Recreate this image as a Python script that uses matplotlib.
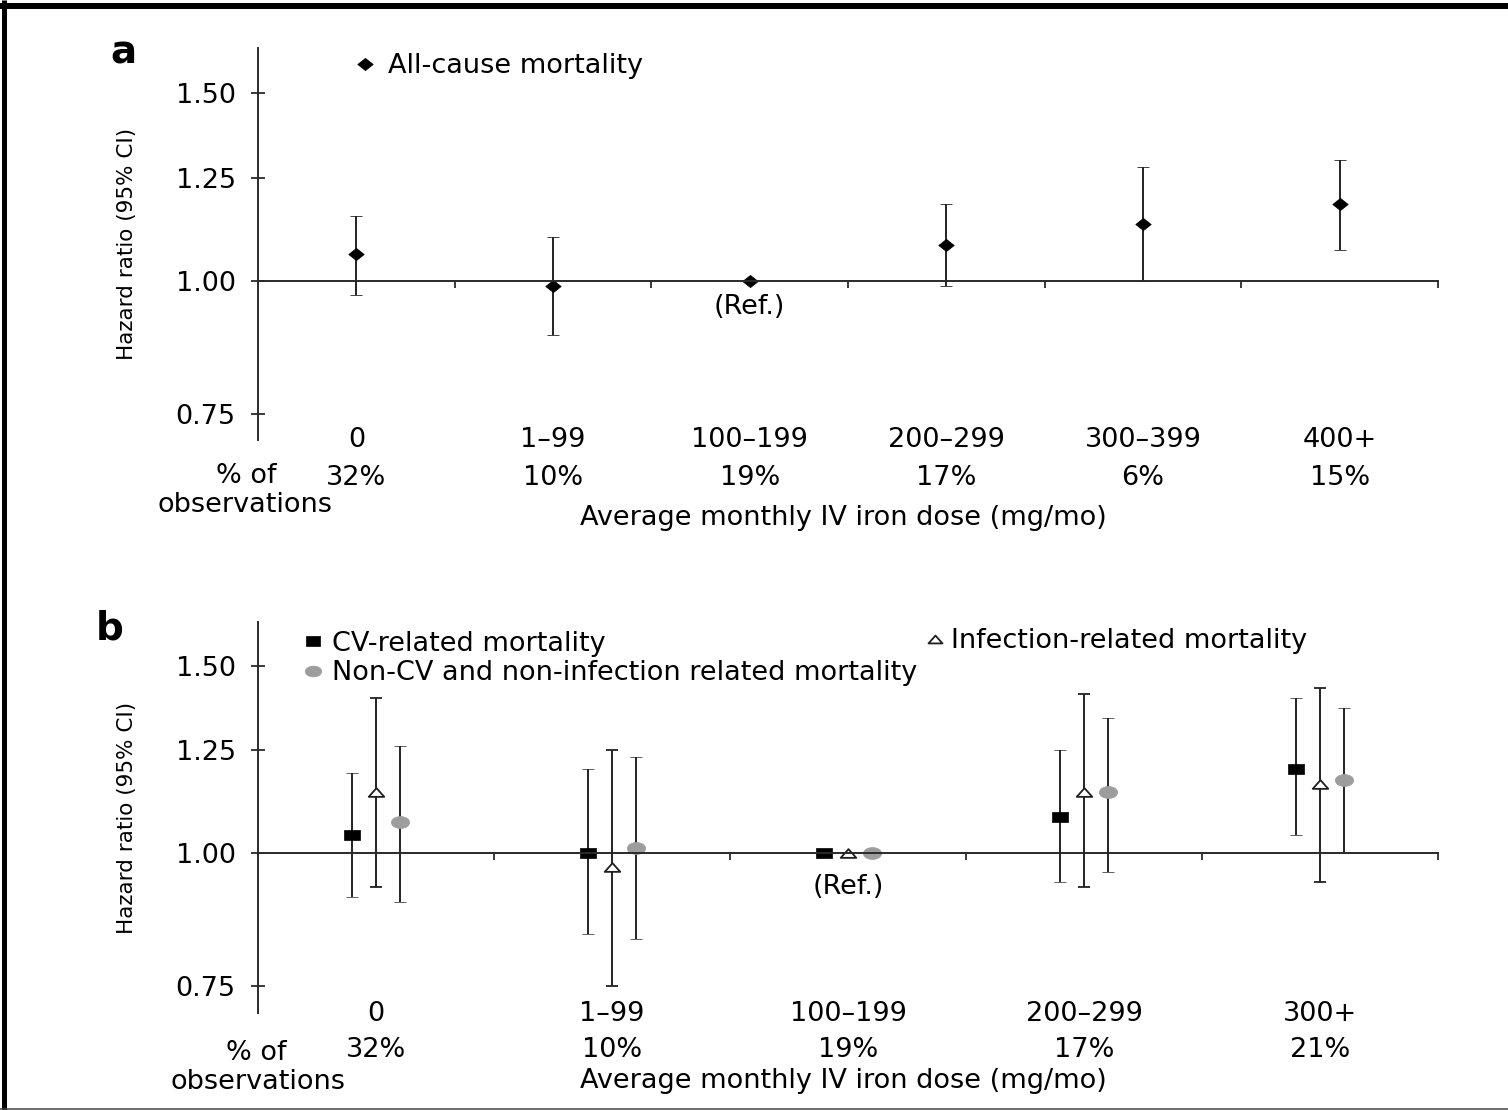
import numpy as np
import matplotlib
matplotlib.use("Agg")
import matplotlib.pyplot as plt
from matplotlib.path import Path
from matplotlib.lines import Line2D
from matplotlib.transforms import blended_transform_factory

# ---------------- data ----------------
# Panel a: all-cause mortality by average monthly IV iron dose
dose_a = ["0", "1\u201399", "100\u2013199", "200\u2013299", "300\u2013399", "400+"]
pct_a = ["32%", "10%", "19%", "17%", "6%", "15%"]
hr_all = [1.06, 0.99, 1.00, 1.08, 1.13, 1.18]
lo_all = [0.97, 0.89, 1.00, 0.99, 1.00, 1.07]
hi_all = [1.15, 1.10, 1.00, 1.18, 1.28, 1.30]

# Panel b: cause-specific mortality
dose_b = ["0", "1\u201399", "100\u2013199", "200\u2013299", "300+"]
pct_b = ["32%", "10%", "19%", "17%", "21%"]
hr_cv = [1.04, 1.00, 1.00, 1.08, 1.20]
lo_cv = [0.91, 0.84, 1.00, 0.94, 1.04]
hi_cv = [1.19, 1.20, 1.00, 1.25, 1.40]
hr_inf = [1.14, 0.97, 1.00, 1.14, 1.16]
lo_inf = [0.93, 0.75, 1.00, 0.93, 0.94]
hi_inf = [1.40, 1.25, 1.00, 1.41, 1.43]
hr_oth = [1.07, 1.01, 1.00, 1.14, 1.17]
lo_oth = [0.90, 0.83, 1.00, 0.96, 1.00]
hi_oth = [1.26, 1.23, 1.00, 1.34, 1.37]

ref_index = 2
yticks = [0.75, 1.00, 1.25, 1.50]

# ---------------- style ----------------
plt.rcParams["font.family"] = ["DejaVu Sans"]
FS = 19.5
AX_COLOR = "#2a2a2a"
ERR_COLOR = "#222222"
GREY = "#9d9d9d"

W, H = 1508, 1110
fig = plt.figure(figsize=(W / 100, H / 100), dpi=100)
fig.patch.set_facecolor("white")


def fx(x):
    return x / W


def fy(y):
    return 1 - y / H


def base(center_px, size=FS):
    # baseline position for text whose cap height is centred at center_px
    return center_px + 0.365 * size * 100 / 72


def closed_path(verts):
    return Path(np.vstack([verts, verts[:1]]), closed=True)


# wide, flattened marker shapes
diamond = closed_path(np.array([[0, -0.79], [1, 0], [0, 0.79], [-1, 0]]))
square = closed_path(np.array([[-1, -0.66], [1, -0.66], [1, 0.66], [-1, 0.66]]))
triangle = closed_path(np.array([[-1, -0.56], [1, -0.56], [0, 0.56]]))
circ = Path.unit_circle()
ellipse = Path(circ.vertices * np.array([1.0, 0.65]), circ.codes)


def style_axes(ax, n, ylim):
    ax.set_yscale("log")
    ax.set_xlim(-0.5, n - 0.5)
    ax.set_ylim(*ylim)
    for s in ("top", "right"):
        ax.spines[s].set_visible(False)
    ax.spines["bottom"].set_position(("data", 1.0))
    for s in ("left", "bottom"):
        ax.spines[s].set_color(AX_COLOR)
        ax.spines[s].set_linewidth(1.4)
    ax.set_yticks(yticks)
    ax.set_yticklabels([f"{v:.2f}" for v in yticks])
    ax.yaxis.set_minor_locator(matplotlib.ticker.NullLocator())
    ax.tick_params(axis="y", direction="inout", length=10, width=1.3,
                   color=AX_COLOR, labelsize=FS, pad=11)
    ax.set_xticks(np.arange(n) + 0.5)
    ax.set_xticklabels([])
    ax.xaxis.set_minor_locator(matplotlib.ticker.NullLocator())
    ax.tick_params(axis="x", direction="out", length=4.7, width=1.3,
                   color=AX_COLOR)
    ax.set_facecolor("none")


def draw_bottom_text(ax, cats, pcts, cat_c, pct_c, pof_x, pof_c, obs_c, xlab_c):
    tr = blended_transform_factory(ax.transData, fig.transFigure)
    for i, (c, p) in enumerate(zip(cats, pcts)):
        ax.text(i, fy(base(cat_c)), c, transform=tr, ha="center",
                va="baseline", fontsize=FS)
        ax.text(i, fy(base(pct_c)), p, transform=tr, ha="center",
                va="baseline", fontsize=FS)
    fig.text(fx(pof_x[0]), fy(base(pof_c)), "% of", ha="center",
             va="baseline", fontsize=FS)
    fig.text(fx(pof_x[1]), fy(base(obs_c)), "observations", ha="center",
             va="baseline", fontsize=FS)
    fig.text(fx(843), fy(base(xlab_c)),
             "Average monthly IV iron dose (mg/mo)", ha="center",
             va="baseline", fontsize=FS)


def errs(hr, lo, hi):
    hr = np.asarray(hr)
    return np.vstack([hr - np.asarray(lo), np.asarray(hi) - hr])


eb_kw = dict(ls="none", ecolor=ERR_COLOR, elinewidth=1.4, capsize=4.2,
             capthick=1.4)

# ---------------- panel a ----------------
ax_a = fig.add_axes([fx(258), fy(440), fx(1180), 392 / H])
style_axes(ax_a, len(dose_a), (0.7094, 1.654))
xa = np.arange(len(dose_a))
eb_a = ax_a.errorbar(xa, hr_all, yerr=errs(hr_all, lo_all, hi_all),
                     marker=diamond, ms=11, mfc="black", mec="black",
                     mew=0.6, **eb_kw)
ax_a.set_ylabel("Hazard ratio (95% CI)", fontsize=15.5)
ax_a.yaxis.set_label_coords((127 - 258) / 1180, 0.5)
ax_a.yaxis.label.set_verticalalignment("center")
ax_a.legend(handles=[eb_a.lines[0]], labels=["All-cause mortality"],
            loc="center left", bbox_to_anchor=(fx(355), fy(66)),
            bbox_transform=fig.transFigure, frameon=False, borderpad=0,
            borderaxespad=0, handlelength=0.75, handletextpad=0.45,
            fontsize=FS)
tr_a = blended_transform_factory(ax_a.transData, fig.transFigure)
ax_a.text(ref_index, fy(base(304)), "(Ref.)", transform=tr_a, ha="center",
          va="baseline", fontsize=FS)
draw_bottom_text(ax_a, dose_a, pct_a, 437.5, 475, (246, 245), 473, 502, 515)
fig.text(fx(123), fy(63.6), "a", ha="center", va="baseline", fontsize=28,
         fontweight="bold")

# ---------------- panel b ----------------
ax_b = fig.add_axes([fx(258), fy(1013), fx(1180), 391 / H])
style_axes(ax_b, len(dose_b), (0.7073, 1.6487))
xb = np.arange(len(dose_b))
off = 0.1
eb_cv = ax_b.errorbar(xb - off, hr_cv, yerr=errs(hr_cv, lo_cv, hi_cv),
                      marker=square, ms=11.2, mfc="black", mec="black",
                      mew=0.5, **eb_kw)
eb_inf = ax_b.errorbar(xb, hr_inf, yerr=errs(hr_inf, lo_inf, hi_inf),
                       marker=triangle, ms=11.2, mfc="white", mec="#1e1e1e",
                       mew=1.3, **eb_kw)
eb_oth = ax_b.errorbar(xb + off, hr_oth, yerr=errs(hr_oth, lo_oth, hi_oth),
                       marker=ellipse, ms=13.2, mfc=GREY, mec=GREY,
                       mew=0.5, **eb_kw)
ax_b.set_ylabel("Hazard ratio (95% CI)", fontsize=15.5)
ax_b.yaxis.set_label_coords((127 - 258) / 1180, 0.5)
ax_b.yaxis.label.set_verticalalignment("center")
leg1 = ax_b.legend(handles=[eb_cv.lines[0], eb_oth.lines[0]],
                   labels=["CV-related mortality",
                           "Non-CV and non-infection related mortality"],
                   loc="center left", bbox_to_anchor=(fx(303), fy(658.5)),
                   bbox_transform=fig.transFigure, frameon=False,
                   borderpad=0, borderaxespad=0, handlelength=0.75,
                   handletextpad=0.32, labelspacing=0.12, markerscale=0.9,
                   fontsize=FS)
ax_b.add_artist(leg1)
ax_b.legend(handles=[eb_inf.lines[0]], labels=["Infection-related mortality"],
            loc="center left", bbox_to_anchor=(fx(925), fy(641)),
            bbox_transform=fig.transFigure, frameon=False, borderpad=0,
            borderaxespad=0, handlelength=0.75, handletextpad=0.22,
            markerscale=0.9, fontsize=FS)
tr_b = blended_transform_factory(ax_b.transData, fig.transFigure)
ax_b.text(ref_index, fy(base(884)), "(Ref.)", transform=tr_b, ha="center",
          va="baseline", fontsize=FS)
draw_bottom_text(ax_b, dose_b, pct_b, 1010.7, 1047.5, (256.5, 257.5),
                 1050.5, 1079, 1078)
fig.text(fx(110), fy(640), "b", ha="center", va="baseline", fontsize=28,
         fontweight="bold")

# ---------------- frame ----------------
fig.add_artist(Line2D([0, 1], [fy(6), fy(6)], transform=fig.transFigure,
                      color="black", lw=4.3, solid_capstyle="butt"))
fig.add_artist(Line2D([fx(3.5), fx(3.5)], [0, 1], transform=fig.transFigure,
                      color="black", lw=3.6, solid_capstyle="butt"))
fig.add_artist(Line2D([0, 1], [fy(1109.3), fy(1109.3)],
                      transform=fig.transFigure, color="#444444", lw=1.1,
                      solid_capstyle="butt"))

fig.savefig("out.png", dpi=100, facecolor="white")
